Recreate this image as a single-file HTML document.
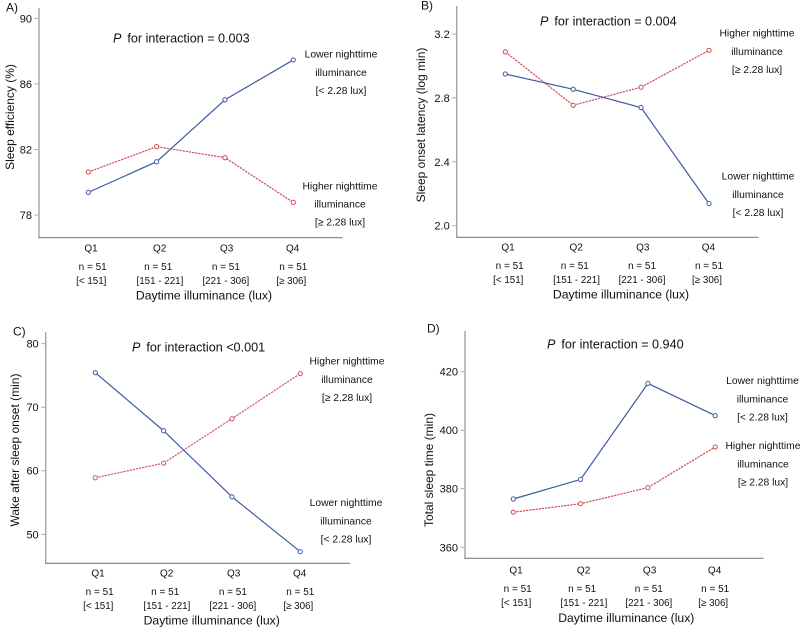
<!DOCTYPE html>
<html>
<head>
<meta charset="utf-8">
<title>Daytime and nighttime illuminance and sleep outcomes</title>
<style>
html,body{margin:0;padding:0;background:#fff;width:800px;height:627px;overflow:hidden}
svg{display:block;filter:blur(0.3px)}
text{font-family:"Liberation Sans",Arial,sans-serif;fill:#111}
</style>
</head>
<body>
<svg id="figure" xmlns="http://www.w3.org/2000/svg" width="800" height="627" viewBox="0 0 800 627"></svg>
<script>
const quartiles = ["Q1", "Q2", "Q3", "Q4"];
const sampleSizes = ["n = 51", "n = 51", "n = 51", "n = 51"];
const ranges = ["[< 151]", "[151 - 221]", "[221 - 306]", "[≥ 306]"];

const ticksA = [78, 82, 86, 90];
const lowerA = [79.38, 81.25, 85.03, 87.46];
const higherA = [80.62, 82.17, 81.5, 78.77];

const ticksB = ["2.0", "2.4", "2.8", "3.2"];
const lowerB = [2.95, 2.854, 2.739, 2.138];
const higherB = [3.088, 2.754, 2.867, 3.098];

const ticksC = [50, 60, 70, 80];
const lowerC = [75.44, 66.3, 55.9, 47.26];
const higherC = [58.9, 61.2, 68.2, 75.3];

const ticksD = [360, 380, 400, 420];
const lowerD = [376.5, 383.2, 416, 405];
const higherD = [372, 374.9, 380.4, 394.3];

const NS = "http://www.w3.org/2000/svg";
const svg = document.getElementById("figure");

function make(tag, attrs, parent) {
  const n = document.createElementNS(NS, tag);
  for (const k in attrs) n.setAttribute(k, attrs[k]);
  parent.appendChild(n);
  return n;
}
function label(parent, str, x, y, size, anchor) {
  const t = make("text", {x: x, y: y + size * 0.36, "font-size": size, "text-anchor": anchor || "middle"}, parent);
  t.textContent = str;
  return t;
}

const panels = [
  {id: "a", tag: "A)", tagX: 6, tagY: 7, ticks: ticksA, lower: lowerA, higher: higherA, red: "#cf4a52",
   axisX: 39, top: 8, bottom: 237.7, right: 342.7, x0: 88.3, xStep: 68.33,
   vLo: 78, yLo: 215, vHi: 90, yHi: 18.3,
   yTitle: "Sleep efficiency (%)", yTitleX: 9.7, yTitleY: 117,
   pX: 113, pY: 38, pText: "for  interaction = 0.003",
   dx: 0, dy: 0,
   legendLower: [341, 54], legendHigher: [340, 185.7]},
  {id: "b", tag: "B)", tagX: 421, tagY: 5, ticks: ticksB, lower: lowerB, higher: higherB, red: "#cf4a52",
   axisX: 456.7, top: 6, bottom: 237.3, right: 758.3, x0: 505.3, xStep: 67.9,
   vLo: 2, yLo: 225.7, vHi: 3.2, yHi: 34,
   yTitle: "Sleep onset latency (log min)", yTitleX: 421, yTitleY: 125,
   pX: 540, pY: 21, pText: "for  interaction = 0.004",
   dx: 417, dy: -1,
   legendLower: [758, 176], legendHigher: [757, 33]},
  {id: "c", tag: "C)", tagX: 13, tagY: 331, ticks: ticksC, lower: lowerC, higher: higherC, red: "#d2517f",
   axisX: 45.7, top: 332.3, bottom: 563.3, right: 350, x0: 95.3, xStep: 68.33,
   vLo: 50, yLo: 534.3, vHi: 80, yHi: 343.7,
   yTitle: "Wake after sleep onset (min)", yTitleX: 15, yTitleY: 450,
   pX: 132, pY: 347, pText: "for  interaction <0.001",
   dx: 7.7, dy: 325,
   legendLower: [346, 502.5], legendHigher: [347, 361]},
  {id: "d", tag: "D)", tagX: 427, tagY: 328, ticks: ticksD, lower: lowerD, higher: higherD, red: "#cf4a52",
   axisX: 465, top: 331, bottom: 558.3, right: 763.3, x0: 513.3, xStep: 67.3,
   vLo: 360, yLo: 547.3, vHi: 420, yHi: 371.7,
   yTitle: "Total sleep time (min)", yTitleX: 429, yTitleY: 470,
   pX: 547, pY: 344, pText: "for  interaction = 0.940",
   dx: 422.3, dy: 322.3,
   legendLower: [762.5, 380.5], legendHigher: [763, 445.5]}
];

const catLabelOffsets = [2.7, 3, 1.7, -0.6];
const nOffsets = [4.4, 1.6, 0.9, 0];
const rangeOffsets = [3, 3.3, 0.9, -2];

function yScale(p, v) {
  return p.yLo + (v - p.vLo) * (p.yHi - p.yLo) / (p.vHi - p.vLo);
}
function xScale(p, i) {
  return p.x0 + i * p.xStep;
}

function drawLegend(parent, pos, head, bracket, name) {
  const g = make("g", {}, parent);
  
  
  label(g, head, pos[0], pos[1], 10.3);
  label(g, "illuminance", pos[0], pos[1] + 18.2, 10.3);
  label(g, bracket, pos[0], pos[1] + 36.2, 10.3);
}

function drawSeries(parent, p, values, color, dash, name) {
  const g = make("g", {}, parent);
  
  
  const pts = values.map((v, i) => xScale(p, i).toFixed(2) + "," + yScale(p, Number(v)).toFixed(2)).join(" ");
  const attrs = {points: pts, fill: "none", stroke: color, "stroke-width": 1.2};
  if (dash) attrs["stroke-dasharray"] = dash;
  const line = make("polyline", attrs, g);
  
  
  values.forEach((v, i) => {
    const c = make("circle", {cx: xScale(p, i), cy: yScale(p, Number(v)), r: 2.1, fill: "#fff", stroke: color, "stroke-width": 1}, g);
    
    
  });
}

panels.forEach(p => {
  const g = make("g", {}, svg);
  
  

  const tag = label(g, p.tag, p.tagX, p.tagY, 12, "start");
  
  

  const yAxis = make("line", {x1: p.axisX, x2: p.axisX, y1: p.top, y2: p.bottom, stroke: "#a3a3a3", "stroke-width": 1.4}, g);
  
  
  const xAxis = make("line", {x1: p.axisX - 0.6, x2: p.right, y1: p.bottom, y2: p.bottom, stroke: "#808080", "stroke-width": 1.1}, g);
  
  

  p.ticks.forEach(t => {
    const y = yScale(p, Number(t));
    const mark = make("line", {x1: p.axisX - 4.5, x2: p.axisX, y1: y, y2: y, stroke: "#a3a3a3", "stroke-width": 0.9}, g);
    
    
    const tl = label(g, String(t), p.axisX - 7, y, 11, "end");
    
    
  });

  const ty = make("text", {x: 0, y: 0, "font-size": 12, "text-anchor": "middle",
    transform: "translate(" + (p.yTitleX + 4.2) + "," + p.yTitleY + ") rotate(-90)"}, g);
  ty.textContent = p.yTitle;
  
  

  quartiles.forEach((q, i) => {
    const cx = p.x0 + i * p.xStep;
    const a = label(g, q, cx + catLabelOffsets[i], 247.7 + p.dy, 10);
    
    
    const b = label(g, sampleSizes[i], cx + nOffsets[i], 266.3 + p.dy, 10);
    
    
    const c = label(g, ranges[i], cx + rangeOffsets[i], 280.3 + p.dy, 9.8);
    
    
  });

  const tx = label(g, "Daytime illuminance (lux)", 204 + p.dx, 295.3 + p.dy, 12.2);
  
  

  const pg = make("text", {x: p.pX, y: p.pY + 4.4, "font-size": 12.6, "xml:space": "preserve"}, g);
  
  
  const it = make("tspan", {"font-style": "italic"}, pg);
  it.textContent = "P";
  const rest = make("tspan", {dx: 6}, pg);
  rest.textContent = p.pText;

  drawSeries(g, p, p.higher, p.red, "2.2 1", "higher-nighttime-series");
  drawSeries(g, p, p.lower, "#3d5aa3", "", "lower-nighttime-series");

  drawLegend(g, p.legendLower, "Lower nighttime", "[< 2.28 lux]", "legend-lower-nighttime");
  drawLegend(g, p.legendHigher, "Higher nighttime", "[≥ 2.28 lux]", "legend-higher-nighttime");
});
</script>
</body>
</html>
